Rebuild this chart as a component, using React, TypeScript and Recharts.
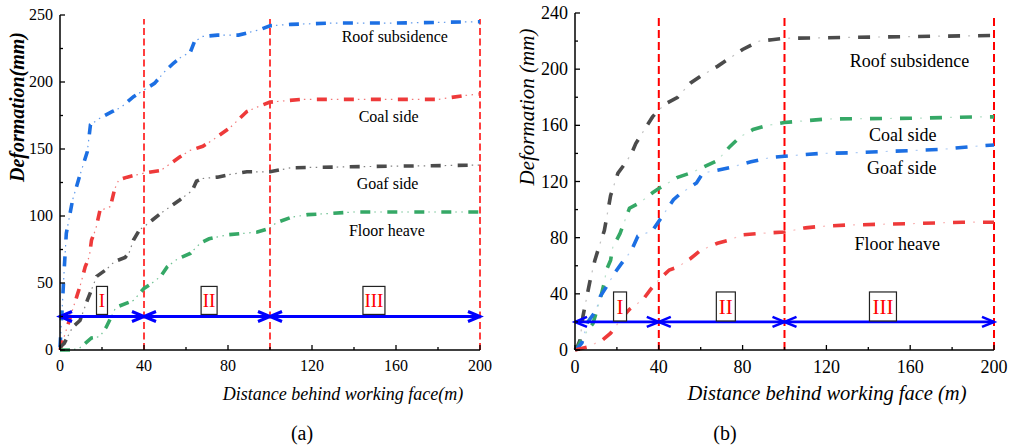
import React from 'react';
import { LineChart, Line, XAxis, YAxis, ReferenceLine, ReferenceDot, Label } from 'recharts';

const FONT = '"Liberation Serif", "Times New Roman", Times, serif';

// ---- chart (a) ----
const aRoof = [[0, 2], [1, 30], [2, 60], [3, 87], [6, 112], [9, 128], [13, 148], [14.5, 168], [19, 173], [25, 178], [29, 181], [35, 189], [40, 194], [45, 199], [50, 208], [54, 214], [58, 219], [62, 222], [64, 230], [68, 234], [75, 235], [85, 235], [95, 239], [100, 242], [110, 243], [130, 244], [160, 244], [200, 245]];
const aCoal = [[0, 0], [2, 10], [4, 20], [8, 40], [10, 50], [12, 62], [14, 70], [15, 82], [17, 90], [19, 104], [24, 107], [26, 120], [28, 127], [32, 129], [40, 132], [48, 134], [57, 144], [62, 149], [68, 152], [73, 157], [81, 166], [89, 178], [95, 182], [100, 185], [115, 187], [180, 187], [193, 190], [200, 191]];
const aGoaf = [[0, 2], [2, 5], [6, 17], [9.5, 22], [13, 37], [15, 45], [17.5, 55], [22, 60], [26, 66], [31, 69], [33, 73], [35, 82], [38, 90], [40, 92], [44, 97], [48, 102], [57, 112], [63, 119], [65, 126], [68, 128], [75, 129], [81, 131], [89, 133], [100, 133], [110, 136], [150, 137], [200, 138]];
const aFloor = [[0, 0], [5, 0], [9, 1], [12, 5], [15, 9], [19, 10], [22, 17], [26, 30], [27, 32], [35, 37], [40, 46], [43, 49], [48, 55], [51, 62], [56, 68], [62, 72], [67, 80], [71, 83], [80, 86], [94, 88], [100, 91], [103, 95], [110, 99], [118, 101], [130, 102], [140, 103], [200, 103]];

// ---- chart (b) ----
const bRoof = [[0, 0], [1, 2], [2.4, 7], [3.8, 24], [7, 48], [9.5, 64], [12, 76], [14, 85], [17, 110], [20.5, 126], [24, 133], [27, 140], [29, 147], [34, 159], [37, 166], [40, 171], [44, 176], [49, 180], [55, 190], [60, 195], [68, 202], [73, 207], [80, 214], [88, 220], [94, 221], [100, 222], [150, 223], [200, 224]];
const bCoal = [[0, 0], [1, 1], [3, 7], [6, 14], [8.6, 19], [12, 36], [14, 48], [15, 57], [17, 64], [18, 73], [21.5, 83], [26, 101], [31, 105], [37, 112], [40, 115], [49, 123], [55, 126], [61, 130], [68, 135], [74, 145], [79, 152], [85, 157], [92, 160], [100, 162], [120, 164.5], [160, 165], [190, 166], [200, 166]];
const bGoaf = [[0, 0], [1, 1], [3.3, 5], [5.7, 19], [10, 28], [12, 38], [15, 45], [19, 55], [22.4, 62], [27, 71], [30, 81], [37, 85], [40.6, 93], [47, 107], [50, 111], [58, 119], [61, 126], [68, 128], [74, 130], [84, 134], [93, 137], [100, 138], [117, 140], [133, 140.5], [160, 142], [176, 143], [190, 145], [200, 146]];
const bFloor = [[0, 0], [5.7, 2], [13, 7], [17, 12], [23, 24], [26, 29], [32.5, 36], [36, 43], [40, 50], [45, 57], [49, 59], [55, 65], [60, 71], [68, 76], [73, 78], [80, 82], [88, 83], [100, 84], [110, 87], [117, 88], [130, 89], [160, 90], [185, 91], [200, 91]];

const xTicks = [0, 20, 40, 60, 80, 100, 120, 140, 160, 180, 200];
const aYTicks = [0, 25, 50, 75, 100, 125, 150, 175, 200, 225, 250];
const bYTicks = [0, 20, 40, 60, 80, 100, 120, 140, 160, 180, 200, 220, 240];
const stageBounds = [0, 40, 100, 200];
const stageNames = ['I', 'II', 'III'];
const seriesNames = ['Roof subsidence', 'Coal side', 'Goaf side', 'Floor heave'];

const BLUE = '#1c6fe3';
const RED = '#ee3a3a';
const GRAY = '#4b4b4b';
const GREEN = '#35a866';

const rows = (pts: number[][]) => pts.map(([x, y]) => ({ x, y }));

const XTick = (p: any) => {
  const major = p.payload.value % 40 === 0;
  return (
    <g>
      <line x1={p.x} x2={p.x} y1={p.y} y2={p.y - (major ? 5 : 3)} stroke="#000" strokeWidth={1.3} />
      {major && (
        <text x={p.x} y={p.y + p.dyy} textAnchor="middle" fontSize={p.fs} fontFamily={FONT} fill="#000">
          {p.payload.value}
        </text>
      )}
    </g>
  );
};

const YTick = (p: any) => {
  const major = p.payload.value % p.step === 0;
  return (
    <g>
      <line x1={p.x} x2={p.x + (major ? 5 : 3)} y1={p.y} y2={p.y} stroke="#000" strokeWidth={1.3} />
      {major && (
        <text x={p.x - 7} y={p.y} dy="0.34em" textAnchor="end" fontSize={p.fs} fontFamily={FONT} fill="#000">
          {p.payload.value}
        </text>
      )}
    </g>
  );
};

const arrowShape = (w: number) => (p: any) => {
  const { x1, y1, x2, y2 } = p;
  const L = 12;
  const H = 5;
  return (
    <g stroke="#0000ff" strokeWidth={w} fill="none">
      <line x1={x1} y1={y1} x2={x2} y2={y2} />
      <polyline points={`${x1 + L},${y1 - H} ${x1},${y1} ${x1 + L},${y1 + H}`} />
      <polyline points={`${x2 - L},${y2 - H} ${x2},${y2} ${x2 - L},${y2 + H}`} />
    </g>
  );
};

const boxShape = (name: string, w: number, h: number, fs: number) => (p: any) => (
  <g>
    <rect x={p.cx - w / 2} y={p.cy - h / 2} width={w} height={h} fill="#fff" stroke="#222" strokeWidth={1.2} />
    <text x={p.cx} y={p.cy} dy="0.35em" textAnchor="middle" fontSize={fs} fontFamily={FONT} fill="#ff0000">
      {name}
    </text>
  </g>
);

const textShape = (txt: string, fs: number) => (p: any) => (
  <text x={p.cx} y={p.cy} dy="0.35em" textAnchor="middle" fontSize={fs} fontFamily={FONT} fill="#000">
    {txt}
  </text>
);

type Cfg = {
  series: { pts: number[][]; color: string }[];
  yTicks: number[];
  yMax: number;
  yStep: number;
  fs: number;
  dyy: number;
  width: number;
  yAxisW: number;
  top: number;
  right: number;
  dash: string;
  dots: string;
  dotOpacity: number;
  refW: number;
  refDash: string;
  refTop: number;
  arrowY: number;
  arrowW: number;
  boxes: { x: number; w: number }[];
  boxY: number;
  boxH: number;
  labels: { x: number; y: number }[];
  yTitle: string;
  yTitleFs: number;
  yTitleBold: boolean;
  xTitle: string;
  xTitleX: number;
  xTitleFs: number;
  caption: string;
  captionX: number;
};

const Panel = ({ c }: { c: Cfg }) => (
  <LineChart width={c.width} height={448} margin={{ top: c.top, right: c.right, bottom: 58, left: 0 }}>
    <XAxis
      type="number"
      dataKey="x"
      domain={[0, 200]}
      ticks={xTicks}
      interval={0}
      tickSize={0}
      tickMargin={0}
      height={40}
      axisLine={{ stroke: '#000', strokeWidth: 1.5 }}
      tickLine={false}
      tick={(p: any) => <XTick {...p} fs={c.fs} dyy={c.dyy} />}
    >
      <Label
        content={() => (
          <g fontFamily={FONT} fill="#000">
            <text x={c.xTitleX} y={400} textAnchor="middle" fontSize={c.xTitleFs} fontStyle="italic">
              {c.xTitle}
            </text>
            <text x={c.captionX} y={440} textAnchor="middle" fontSize={20}>
              {c.caption}
            </text>
          </g>
        )}
      />
    </XAxis>
    <YAxis
      type="number"
      domain={[0, c.yMax]}
      ticks={c.yTicks}
      interval={0}
      width={c.yAxisW}
      tickSize={0}
      tickMargin={0}
      axisLine={{ stroke: '#000', strokeWidth: 1.5 }}
      tickLine={false}
      tick={(p: any) => <YTick {...p} fs={c.fs} step={c.yStep} />}
    >
      <Label
        content={() => (
          <text
            transform="translate(17,107) rotate(-90)"
            textAnchor="middle"
            dy="0.35em"
            fontSize={c.yTitleFs}
            fontFamily={FONT}
            fontStyle="italic"
            fontWeight={c.yTitleBold ? 'bold' : 'normal'}
            fill="#000"
          >
            {c.yTitle}
          </text>
        )}
      />
    </YAxis>
    {stageBounds.slice(1).map((b) => (
      <ReferenceLine
        key={'v' + b}
        segment={[{ x: b, y: 0 }, { x: b, y: c.refTop }]}
        stroke="#ff0000"
        strokeWidth={c.refW}
        strokeDasharray={c.refDash}
      />
    ))}
    {c.series.map((s, i) => (
      <Line
        key={'d' + i}
        data={rows(s.pts)}
        dataKey="y"
        type="linear"
        stroke={s.color}
        strokeWidth={1.2}
        strokeOpacity={c.dotOpacity}
        strokeDasharray={c.dots}
        dot={false}
        activeDot={false}
        isAnimationActive={false}
      />
    ))}
    {c.series.map((s, i) => (
      <Line
        key={'s' + i}
        data={rows(s.pts)}
        dataKey="y"
        type="linear"
        stroke={s.color}
        strokeWidth={3.6}
        strokeDasharray={c.dash}
        dot={false}
        activeDot={false}
        isAnimationActive={false}
      />
    ))}
    {stageBounds.slice(1).map((b, i) => (
      <ReferenceLine
        key={'a' + b}
        segment={[{ x: stageBounds[i], y: c.arrowY }, { x: b, y: c.arrowY }]}
        shape={arrowShape(c.arrowW)}
      />
    ))}
    {c.boxes.map((bx, i) => (
      <ReferenceDot key={'b' + i} x={bx.x} y={c.boxY} shape={boxShape(stageNames[i], bx.w, c.boxH, c.fs + 3)} />
    ))}
    {c.labels.map((l, i) => (
      <ReferenceDot key={'l' + i} x={l.x} y={l.y} shape={textShape(seriesNames[i], c.fs)} />
    ))}
  </LineChart>
);

const cfgA: Cfg = {
  series: [
    { pts: aRoof, color: BLUE },
    { pts: aCoal, color: RED },
    { pts: aGoaf, color: GRAY },
    { pts: aFloor, color: GREEN },
  ],
  yTicks: aYTicks,
  yMax: 250,
  yStep: 50,
  fs: 16,
  dyy: 21,
  width: 500,
  yAxisW: 60,
  top: 15,
  right: 20,
  dash: '10 17',
  dots: '0 14 1.5 4.5 1.5 5.5',
  dotOpacity: 0.7,
  refW: 1.5,
  refDash: '7 3.5',
  refTop: 247,
  arrowY: 25,
  arrowW: 3,
  boxes: [{ x: 20, w: 11 }, { x: 71, w: 16 }, { x: 149.5, w: 22 }],
  boxY: 37,
  boxH: 28,
  labels: [{ x: 159.4, y: 234 }, { x: 156.5, y: 174 }, { x: 156, y: 124 }, { x: 155.7, y: 89 }],
  yTitle: 'Deformation(mm)',
  yTitleFs: 20,
  yTitleBold: true,
  xTitle: 'Distance behind working face(m)',
  xTitleX: 343,
  xTitleFs: 18,
  caption: '(a)',
  captionX: 302,
};

const cfgB: Cfg = {
  series: [
    { pts: bRoof, color: GRAY },
    { pts: bCoal, color: GREEN },
    { pts: bGoaf, color: BLUE },
    { pts: bFloor, color: RED },
  ],
  yTicks: bYTicks,
  yMax: 240,
  yStep: 40,
  fs: 18,
  dyy: 22.5,
  width: 506,
  yAxisW: 65,
  top: 13,
  right: 22,
  dash: '12 18',
  dots: '0 20 2 8',
  dotOpacity: 0.35,
  refW: 2,
  refDash: '8 4',
  refTop: 238,
  arrowY: 20,
  arrowW: 2.6,
  boxes: [{ x: 21.5, w: 13 }, { x: 72, w: 19 }, { x: 147, w: 27 }],
  boxY: 31,
  boxH: 29,
  labels: [{ x: 159.7, y: 206 }, { x: 156.5, y: 153 }, { x: 156, y: 130 }, { x: 153.8, y: 76 }],
  yTitle: 'Deformation (mm)',
  yTitleFs: 21,
  yTitleBold: false,
  xTitle: 'Distance behind working face (m)',
  xTitleX: 317,
  xTitleFs: 20.5,
  caption: '(b)',
  captionX: 215,
};

export default function App() {
  return (
    <div style={{ position: 'absolute', left: 0, top: 0, width: 1016, height: 448, background: '#fff' }}>
      <div style={{ position: 'absolute', left: 0, top: 0 }}>
        <Panel c={cfgA} />
      </div>
      <div style={{ position: 'absolute', left: 510, top: 0 }}>
        <Panel c={cfgB} />
      </div>
    </div>
  );
}
